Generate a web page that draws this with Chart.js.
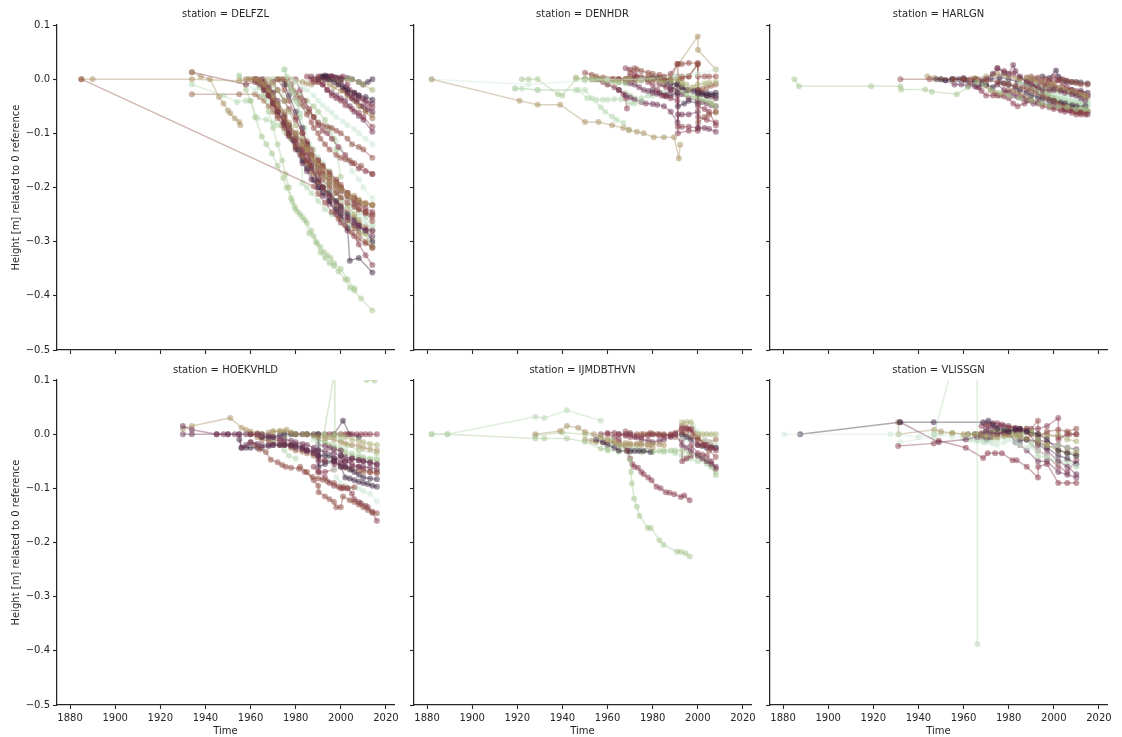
<!DOCTYPE html>
<html>
<head>
<meta charset="utf-8">
<script src="https://cdn.jsdelivr.net/npm/chart.js@4/dist/chart.umd.min.js"></script>
<style>
  body { margin: 0; background: #fff; width: 1122px; height: 737px; overflow: hidden; }
  canvas { position: absolute; }
</style>
</head>
<body>
<canvas id="f0"></canvas><canvas id="f1"></canvas><canvas id="f2"></canvas>
<canvas id="f3"></canvas><canvas id="f4"></canvas><canvas id="f5"></canvas>
<script>
/* ---------- Datos (año, altura) por estación ---------- */
const stations = ['DELFZL', 'DENHDR', 'HARLGN', 'HOEKVHLD', 'IJMDBTHVN', 'VLISSGN'];
const xTicks = [1880, 1900, 1920, 1940, 1960, 1980, 2000, 2020];
const yTicks = [-0.5, -0.4, -0.3, -0.2, -0.1, 0.0, 0.1];

// each series: year, value, year, value, ...
const delfzl = [
  [1885,0, 1988,-0.198, 1990,-0.212, 1993,-0.228, 1996,-0.245, 1999,-0.258, 2002,-0.27, 2005,-0.283, 2008,-0.295, 2011,-0.303, 2014,-0.31],
  [1885,0, 1890,0, 1934,0, 1955,-0.003, 1959,0, 1962,0, 1964,-0.005, 1966,-0.01, 1968,-0.02, 1970,-0.03, 1972,-0.045, 1975,-0.06, 1977,-0.08, 1980,-0.1, 1983,-0.12, 1985,-0.13, 1988,-0.15, 1990,-0.165, 1993,-0.18, 1995,-0.19, 1998,-0.2, 2000,-0.205, 2003,-0.215, 2005,-0.22, 2008,-0.226, 2010,-0.23, 2014,-0.232],
  [1934,0.013, 1938,0.005, 1942,0, 1946,-0.033, 1948,-0.045, 1950,-0.058, 1951,-0.063, 1953,-0.072, 1955,-0.079, 1955.5,-0.085],
  [1934,0.013, 1958,-0.01, 1962,-0.005, 1964,-0.01, 1966,-0.02, 1968,-0.03, 1970,-0.045, 1972,-0.06, 1975,-0.08, 1977,-0.095, 1980,-0.115, 1983,-0.13, 1985,-0.14, 1987,-0.152, 1990,-0.165, 1992,-0.175, 1995,-0.19, 1998,-0.2, 2000,-0.207, 2003,-0.217, 2006,-0.225, 2008,-0.23, 2011,-0.238, 2014,-0.245],
  [1962,0, 1964,-0.005, 1966,-0.015, 1968,-0.03, 1970,-0.05, 1972,-0.068, 1975,-0.09, 1977,-0.105, 1980,-0.125, 1983,-0.14, 1985,-0.15, 1987,-0.16, 1990,-0.175, 1992,-0.185, 1995,-0.2, 1998,-0.21, 2000,-0.218, 2003,-0.228, 2006,-0.236, 2008,-0.24, 2011,-0.245, 2014,-0.25],
  [1960,0, 1962,0, 1964,-0.002, 1966,-0.01, 1968,-0.025, 1970,-0.04, 1972,-0.055, 1975,-0.075, 1977,-0.09, 1980,-0.11, 1983,-0.125, 1985,-0.135, 1987,-0.145, 1990,-0.16, 1992,-0.17, 1995,-0.183, 1998,-0.195, 2000,-0.2, 2003,-0.21, 2006,-0.22, 2008,-0.225, 2011,-0.23, 2014,-0.233],
  [1963,-0.005, 1966,-0.02, 1968,-0.03, 1970,-0.044, 1972,-0.06, 1975,-0.08, 1977,-0.1, 1979,-0.113, 1981,-0.13, 1983,-0.15, 1985,-0.165, 1988,-0.186, 1990,-0.2, 1992,-0.21, 1995,-0.225, 1998,-0.24, 2000,-0.25, 2003,-0.275, 2004,-0.335, 2008,-0.33, 2014,-0.357],
  [1965,0, 1968,-0.015, 1970,-0.025, 1972,-0.04, 1975,-0.065, 1977,-0.085, 1980,-0.11, 1983,-0.135, 1985,-0.15, 1987,-0.165, 1990,-0.185, 1992,-0.2, 1995,-0.215, 1998,-0.228, 2000,-0.24, 2003,-0.255, 2006,-0.265, 2008,-0.27, 2011,-0.28, 2014,-0.29],
  [1963,0, 1966,-0.01, 1968,-0.02, 1970,-0.035, 1972,-0.05, 1975,-0.07, 1977,-0.085, 1980,-0.1, 1983,-0.115, 1985,-0.125, 1987,-0.14, 1990,-0.15, 1992,-0.16, 1995,-0.172, 1998,-0.185, 2000,-0.195, 2003,-0.21, 2006,-0.22, 2008,-0.228, 2011,-0.245, 2014,-0.262],
  [1968,0, 1970,-0.01, 1972,-0.02, 1975,-0.04, 1977,-0.06, 1980,-0.085, 1983,-0.11, 1985,-0.125, 1987,-0.14, 1990,-0.16, 1992,-0.175, 1995,-0.195, 1998,-0.21, 2000,-0.22, 2003,-0.235, 2006,-0.25, 2008,-0.26, 2011,-0.285, 2014,-0.31],
  [1958,0, 1962,0, 1964,-0.005, 1966,-0.015, 1968,-0.03, 1970,-0.045, 1972,-0.06, 1975,-0.08, 1977,-0.1, 1980,-0.12, 1983,-0.14, 1985,-0.155, 1987,-0.17, 1990,-0.19, 1992,-0.2, 1995,-0.215, 1998,-0.235, 2000,-0.245, 2003,-0.26, 2006,-0.275, 2008,-0.285, 2011,-0.3, 2014,-0.312],
  [1970,-0.005, 1972,-0.02, 1975,-0.04, 1977,-0.055, 1980,-0.075, 1983,-0.1, 1985,-0.12, 1987,-0.14, 1990,-0.17, 1992,-0.2, 1995,-0.225, 1998,-0.25, 2000,-0.265, 2003,-0.28, 2006,-0.29, 2008,-0.305, 2011,-0.325, 2014,-0.343],
  [1966,0, 1968,-0.01, 1970,-0.025, 1972,-0.045, 1975,-0.07, 1977,-0.085, 1980,-0.105, 1983,-0.12, 1985,-0.13, 1987,-0.14, 1990,-0.155, 1992,-0.165, 1995,-0.18, 1998,-0.19, 2000,-0.2, 2003,-0.21, 2006,-0.215, 2008,-0.222, 2011,-0.228, 2014,-0.232],
  [1966,-0.005, 1968,-0.02, 1970,-0.04, 1972,-0.06, 1975,-0.085, 1977,-0.105, 1980,-0.13, 1983,-0.155, 1985,-0.17, 1987,-0.185, 1990,-0.2, 1992,-0.215, 1995,-0.23, 1998,-0.245, 2000,-0.255, 2003,-0.26, 2006,-0.27, 2008,-0.275, 2011,-0.278, 2014,-0.28],
  [1972,0, 1975,-0.02, 1977,-0.04, 1980,-0.07, 1983,-0.1, 1985,-0.115, 1987,-0.13, 1990,-0.15, 1992,-0.16, 1995,-0.175, 1998,-0.19, 2000,-0.2, 2003,-0.215, 2006,-0.23, 2008,-0.24, 2011,-0.248, 2014,-0.253],
  [1975,-0.01, 1977,-0.03, 1980,-0.06, 1983,-0.09, 1985,-0.12, 1987,-0.16, 1990,-0.19, 1992,-0.2, 1995,-0.21, 1998,-0.225, 2000,-0.235, 2003,-0.25, 2006,-0.26, 2008,-0.27, 2011,-0.28, 2014,-0.3],
  [1955,0.005, 1958,-0.02, 1960,-0.04, 1962,-0.07, 1965,-0.106, 1967,-0.12, 1969.5,-0.137, 1972,-0.16, 1974.5,-0.183, 1976,-0.2, 1978,-0.22, 1979.5,-0.235, 1981,-0.245, 1983,-0.255, 1985,-0.265, 1987,-0.28, 1989,-0.3, 1991,-0.32, 1993,-0.33, 1995,-0.34, 1997,-0.345, 1999,-0.355, 2002,-0.37, 2004,-0.385, 2006,-0.39, 2009,-0.405, 2014,-0.427],
  [1962,0, 1964,-0.015, 1966,-0.03, 1968,-0.06, 1970,-0.09, 1972,-0.12, 1974,-0.15, 1975.5,-0.175, 1977,-0.2, 1978.5,-0.226, 1980,-0.24, 1982,-0.25, 1984,-0.26, 1986,-0.285, 1988,-0.29, 1989.5,-0.303, 1991,-0.31, 1992.5,-0.319, 1994,-0.325, 1995.5,-0.33, 1997,-0.34, 2000,-0.35, 2003,-0.37, 2006,-0.386],
  [1975,0.018, 1977,-0.01, 1979,-0.026, 1981,-0.045, 1982,-0.063, 1982.6,-0.131, 1983,-0.192, 1985,-0.2, 1987,-0.21, 1990,-0.225, 1993,-0.24, 1996,-0.25, 2000,-0.26, 2004,-0.27, 2008,-0.28, 2014,-0.295],
  [1975,0.018, 1976,0.005, 1978,-0.02, 1980,-0.04, 1982,-0.07, 1984,-0.09, 1986,-0.12, 1988,-0.13, 1990,-0.145, 1992,-0.155, 1995,-0.17, 1998,-0.19, 2000,-0.205, 2003,-0.22, 2006,-0.235, 2008,-0.245, 2011,-0.255, 2014,-0.27],
  [1955,0.008, 1958,-0.01, 1962,-0.02, 1965,-0.03, 1968,-0.04, 1972,-0.055, 1975,-0.07, 1978,-0.09, 1980,-0.1, 1983,-0.12, 1986,-0.14, 1988,-0.15, 1990,-0.16, 1993,-0.18, 1995,-0.2, 1998,-0.21, 2000,-0.22, 2003,-0.235, 2005,-0.245, 2008,-0.255, 2011,-0.265, 2014,-0.277],
  [1934,-0.01, 1948,-0.03, 1954,-0.042, 1958,-0.04, 1960,-0.04, 1963,-0.072, 1967,-0.075, 1970,-0.08, 1972,-0.085, 1975,-0.095, 1978,-0.11, 1982,-0.13, 1985,-0.15, 1988,-0.165, 1990,-0.18, 1993,-0.195, 1995,-0.21, 1998,-0.225, 2000,-0.24, 2003,-0.25, 2006,-0.27, 2010,-0.285, 2014,-0.305],
  [1934,-0.028, 1955,-0.028, 1962,-0.028, 1964,-0.033, 1966,-0.04, 1968,-0.05, 1970,-0.06, 1972,-0.072, 1974,-0.085, 1976,-0.1, 1978,-0.11, 1980,-0.125, 1982,-0.14, 1984,-0.15, 1986,-0.16, 1988,-0.175, 1990,-0.19, 1992,-0.2, 1994,-0.21, 1996,-0.218, 1998,-0.225, 2000,-0.232, 2003,-0.245, 2006,-0.255, 2008,-0.265, 2011,-0.272, 2014,-0.28],
  [1985,0.005, 1987,0, 1988,-0.005, 1990,-0.005, 1992,-0.01, 1994,-0.02, 1996,-0.03, 1998,-0.035, 2000,-0.04, 2002,-0.048, 2005,-0.055, 2008,-0.062, 2010,-0.07, 2014,-0.088],
  [1987,0.005, 1990,0, 1992,-0.01, 1994,-0.02, 1996,-0.025, 1998,-0.03, 2000,-0.035, 2002,-0.04, 2004,-0.05, 2006,-0.06, 2008,-0.068, 2010,-0.075, 2014,-0.097],
  [1976,0, 1978,-0.01, 1980,-0.025, 1982,-0.035, 1984,-0.05, 1986,-0.06, 1988,-0.07, 1990,-0.08, 1992,-0.085, 1994,-0.088, 1996,-0.09, 1998,-0.095, 2000,-0.1, 2003,-0.11, 2005,-0.12, 2008,-0.125, 2010,-0.13, 2014,-0.145],
  [1974,0, 1976,-0.01, 1978,-0.02, 1980,-0.035, 1982,-0.045, 1985,-0.065, 1987,-0.08, 1988,-0.09, 1990,-0.1, 1991,-0.11, 1993,-0.12, 1995,-0.13, 1998,-0.14, 2000,-0.145, 2002,-0.148, 2004,-0.15, 2006,-0.155, 2009,-0.16, 2014,-0.175],
  [1992,0.005, 1993,0.007, 1995,0, 1997,-0.005, 1999,-0.01, 2001,-0.015, 2003,-0.02, 2006,-0.025, 2008,-0.03, 2011,-0.033, 2014,-0.038],
  [1993,0, 1994,0.005, 1996,0.005, 1998,0.002, 2000,0, 2002,-0.015, 2003,-0.025, 2005,-0.035, 2007,-0.04, 2010,-0.05, 2012,-0.055, 2014,-0.06],
  [1995,0, 1998,0, 2000,-0.002, 2003,0, 2005,0, 2008,-0.005, 2010,-0.01, 2014,-0.02],
  [1988,0, 1990,0.002, 1992,0.003, 1995,0.002, 1997,0, 1999,-0.01, 2001,-0.02, 2003,-0.028, 2005,-0.035, 2007,-0.042, 2009,-0.05, 2011,-0.06, 2014,-0.072],
  [1978,0, 1980,-0.005, 1983,-0.015, 1985,-0.02, 1988,-0.03, 1990,-0.04, 1992,-0.048, 1994,-0.055, 1996,-0.062, 1998,-0.07, 2001,-0.078, 2003,-0.085, 2006,-0.092, 2008,-0.1, 2011,-0.11, 2014,-0.12],
  [1990,0, 1992,0.003, 1994,0.005, 1995,0, 1998,0.003, 2000,0, 2003,0.002, 2005,0, 2008,-0.005, 2010,-0.01, 2012,-0.005, 2014,0],
  [1972,0, 1975,0, 1978,0, 1980,-0.003, 1983,-0.005, 1985,-0.008, 1987,-0.01, 1990,-0.005, 1992,0, 1995,-0.01, 1997,-0.015, 2000,-0.022, 2003,-0.03, 2006,-0.04, 2008,-0.05, 2011,-0.058, 2014,-0.065],
  [1990,0.005, 1992,0.003, 1993,0.003, 1995,0.005, 1996,0.005, 1998,0, 2000,0.003, 2001,0.005, 2003,-0.01, 2004,-0.02, 2006,-0.025, 2008,-0.03, 2010,-0.038, 2012,-0.045, 2014,-0.052],
  [1980,0, 1982,-0.02, 1984,-0.04, 1986,-0.055, 1988,-0.07, 1990,-0.085, 1992,-0.095, 1994,-0.1, 1996,-0.11, 1999,-0.125, 2002,-0.14, 2005,-0.155, 2008,-0.165, 2011,-0.17, 2014,-0.175],
  [1970,0, 1973,0, 1976,-0.01, 1979,-0.02, 1982,-0.03, 1985,-0.04, 1988,-0.05, 1990,-0.06, 1993,-0.075, 1995,-0.09, 1997,-0.11, 1998,-0.13, 2000,-0.18],
  [1965,0, 1968,-0.01, 1970,-0.02, 1974,-0.03, 1978,-0.04, 1982,-0.05, 1985,-0.06, 1988,-0.07, 1990,-0.08, 1993,-0.09, 1995,-0.1, 1998,-0.115, 2000,-0.13, 2003,-0.15, 2005,-0.17, 2008,-0.185, 2010,-0.2, 2014,-0.22],
  [1991,0.005, 1993,0.005, 1994,0, 1996,0.005, 1997,0.003, 1999,0, 2000,-0.005, 2002,-0.02, 2004,-0.03, 2006,-0.03, 2008,-0.035, 2011,-0.04, 2014,-0.045]
];
const delfzlHue = [6,4,4,7,6,5,9,8,6,3,5,7,4,8,6,9,2,2,1,1,0,1,5,7,8,6,6,9,8,3,5,0,9,4,7,7,2,0,8];

const denhdr = [
  [1882,0, 1921,-0.04, 1929,-0.047, 1939,-0.047, 1950,-0.079, 1956,-0.079, 1962,-0.085, 1967,-0.09, 1969.5,-0.094, 1973,-0.097, 1976,-0.1, 1980.5,-0.107, 1985,-0.107, 1989.5,-0.107, 1991.6,-0.146, 1992.2,-0.121],
  [1882,0, 1925,-0.01, 1950,-0.003, 1960,0, 1975,0, 1990,0.005, 2000,0.01, 2008,0.018],
  [1922,0, 1925,0, 1929,0, 1938,-0.028, 1940,-0.03, 1946,0, 1950,0, 1953,0, 1956,0, 1959,-0.003, 1962,-0.005, 1965,-0.006, 1968,-0.008],
  [1919,-0.017, 1922,-0.017, 1929,-0.02, 1946,-0.02, 1950,-0.02, 1953,-0.035, 1957,-0.052, 1959,-0.06, 1962,-0.069, 1964,-0.075, 1967,-0.081, 1969.5,-0.094],
  [1919,-0.017, 1929,-0.02, 1947,-0.02, 1951,-0.035, 1955,-0.038, 1958,-0.038, 1960,-0.038, 1963,-0.037, 1966,-0.037, 1970,-0.045, 1972,-0.045, 1975,-0.04],
  [1946,0.003, 1950,0, 1953,0, 1955,0, 1958,0, 1960,0, 1963,-0.003, 1965,-0.005, 1968,0, 1970,0, 1973,-0.002, 1975,-0.003, 1978,0, 1980,0, 1983,-0.003, 1985,-0.005, 1988,-0.003, 1991,0, 1993,-0.01, 1996,-0.02, 2000,-0.01, 2003,-0.008, 2005,-0.006, 2008,-0.005],
  [1950,0.012, 1953,0.008, 1955,0.005, 1958,0.003, 1962,0, 1965,0, 1968,0, 1970,0.012, 1972,0.02, 1973,0.018, 1975,0.015, 1978,0.012, 1980,0.01, 1983,0.008, 1985,0.005, 1988,0.01, 1991,0.028, 1993,0.028, 1996,0.03, 2000,0.03, 2000.2,-0.08, 2003,-0.07, 2005,-0.065, 2008,-0.06],
  [1950,0, 1953,0, 1956,0, 1960,0, 1963,0, 1965,0, 1968,0, 1970,0, 1972,0, 1975,0, 1978,0, 1980,0, 1983,0, 1985,0, 1988,0, 1991,0.028, 1991.2,0, 1993,0.002, 1996,0.005, 2000,0.028, 2000.1,0.005, 2003,0.005, 2005,0.005, 2008,0.005],
  [1965,-0.02, 1968,-0.03, 1970,-0.034, 1972,-0.038, 1975,-0.042, 1977,-0.045, 1980,-0.046, 1982,-0.047, 1985,-0.05, 1988,-0.06, 1991,-0.08, 1991.2,-0.065, 1993,-0.065, 1996,-0.065, 2000,-0.06, 2000.2,-0.09, 2003,-0.09, 2005,-0.092, 2008,-0.097],
  [1968,0.02, 1970,0.018, 1972,0.01, 1973,0.005, 1975,0, 1978,-0.005, 1980,-0.01, 1982,-0.02, 1984,-0.03, 1986,-0.032, 1988,-0.035, 1991,-0.04, 1991.2,-0.088, 1993,-0.088, 1996,-0.088, 2000,-0.09, 2000.1,-0.05, 2003,-0.055, 2005,-0.06, 2008,-0.085],
  [1972,0, 1975,0, 1978,0, 1980,0.002, 1982,0.002, 1984,0, 1986,-0.005, 1988,-0.008, 1991,-0.01, 1993,-0.015, 1995,-0.02, 1998,-0.022, 2000,-0.025, 2002,-0.028, 2004,-0.03, 2006,-0.028, 2008,-0.025],
  [1968,-0.005, 1970,-0.008, 1972,-0.01, 1974,-0.015, 1976,-0.02, 1978,-0.022, 1980,-0.025, 1982,-0.027, 1985,-0.03, 1988,-0.02, 1991,-0.01, 1993,-0.015, 1996,-0.02, 2000,-0.02, 2002,-0.025, 2004,-0.03, 2006,-0.032, 2008,-0.035],
  [1955,0, 1958,-0.005, 1960,-0.01, 1963,-0.015, 1965,-0.02, 1967,-0.028, 1968,-0.035, 1968.6,-0.054],
  [1956,0, 1959,0, 1962,0, 1965,0, 1968,0, 1970,0, 1973,0.003, 1975,0.004, 1978,0.005, 1980,0.003, 1983,0.002, 1985,0, 1988,0.002, 1991,0.005, 1993,0.005, 1996,0.005, 2000,0.027, 2000.2,-0.02, 2002,-0.018, 2004,-0.015, 2006,-0.012, 2008,-0.01],
  [1991.5,0.028, 2000,0.079, 2000.1,0.054, 2008,0.018],
  [1988,0, 1990,-0.01, 1993,-0.02, 1995,-0.03, 1998,-0.033, 2000,-0.035, 2002,-0.038, 2004,-0.04, 2006,-0.045, 2008,-0.05],
  [1985,0, 1988,0, 1991,0, 1993,-0.005, 1995,-0.01, 1998,-0.015, 2000,-0.02, 2002,-0.025, 2004,-0.03, 2006,-0.045, 2008,-0.062],
  [1985,-0.01, 1988,-0.015, 1991,-0.02, 1993,-0.028, 1996,-0.035, 2000,-0.04, 2002,-0.042, 2004,-0.045, 2006,-0.048, 2008,-0.05],
  [1980,-0.02, 1983,-0.025, 1986,-0.03, 1988,-0.03, 1991,-0.025, 1991.2,-0.05, 1994,-0.045, 1996,-0.04, 2000,-0.045, 2000.2,-0.028, 2004,-0.025, 2008,-0.03],
  [1970,0.005, 1972,0.003, 1975,0.002, 1978,0, 1980,0, 1983,-0.01, 1986,-0.015, 1988,-0.02, 1991,-0.03, 1991.2,-0.1, 1996,-0.095, 2000,-0.095, 2000.2,-0.07, 2004,-0.075, 2008,-0.08],
  [1960,-0.01, 1965,-0.02, 1968,-0.025, 1970,-0.03, 1972,-0.035, 1975,-0.035, 1978,-0.03, 1980,-0.03, 1985,-0.025, 1990,-0.02, 1995,-0.025, 2000,-0.03, 2005,-0.03, 2008,-0.035]
];
const denhdrHue = [4,0,2,1,1,3,6,6,8,7,9,8,7,5,4,2,3,8,9,7,1];

const harlgn = [
  [1885,0, 1887,-0.013, 1919,-0.013, 1932,-0.013, 1932.3,-0.019, 1943,-0.019, 1946,-0.023, 1957,-0.028, 1962,-0.015, 1966,-0.005, 1969,-0.01, 1972,-0.02, 1976,-0.025, 1980,-0.03, 1985,-0.035, 1990,-0.04, 1994,-0.045, 1998,-0.05, 2002,-0.05, 2006,-0.052, 2010,-0.055, 2014,-0.055],
  [1932,0, 1945,0, 1956,0, 1960,0, 1963,0, 1966,0, 1970,-0.002, 1975,-0.005, 1978,-0.008, 1980,-0.01, 1983,-0.012, 1986,-0.015, 1988,-0.018, 1990,-0.02, 1992,-0.025, 1995,-0.03, 1997,-0.035, 2000,-0.04, 2002,-0.045, 2005,-0.05, 2007,-0.055, 2010,-0.06, 2012,-0.06, 2014,-0.062],
  [1948,0, 1950,0, 1952,-0.002, 1955,0, 1958,0, 1961,-0.002, 1965,-0.005, 1968,-0.008, 1970,-0.01, 1973,-0.015, 1976,-0.005, 1978,-0.008, 1980,-0.01, 1983,-0.015, 1985,-0.02, 1988,-0.025, 1990,-0.03, 1993,-0.033, 1995,-0.035, 1998,-0.038, 2000,-0.04, 2003,-0.043, 2005,-0.045, 2008,-0.048, 2010,-0.05, 2014,-0.05],
  [1952,-0.002, 1956,-0.01, 1959,-0.01, 1962,-0.012, 1965,-0.013, 1967,-0.015, 1970,0, 1973,0.01, 1975,0.02, 1978,0.012, 1980,0.01, 1982,0.026, 1983,0.015, 1985,0.005, 1988,-0.005, 1990,-0.01, 1993,-0.015, 1995,-0.02, 1998,-0.02, 2000,-0.02, 2003,-0.022, 2005,-0.025, 2008,-0.028, 2010,-0.03, 2012,-0.035, 2014,-0.04],
  [1960,0, 1963,-0.008, 1966,-0.015, 1968,-0.022, 1970,-0.03, 1973,-0.03, 1975,-0.03, 1978,-0.032, 1980,-0.035, 1982,-0.045, 1984,-0.05, 1987,-0.045, 1990,-0.04, 1993,-0.045, 1995,-0.05, 1998,-0.052, 2000,-0.055, 2003,-0.058, 2005,-0.06, 2008,-0.062, 2010,-0.065, 2012,-0.065, 2014,-0.065],
  [1944,0.005, 1947,0.002, 1950,0, 1955,0, 1960,0, 1965,0.002, 1970,0.005, 1973,0.008, 1975,0.01, 1978,0.008, 1980,0.005, 1983,0.002, 1985,0, 1988,0, 1990,0, 1992,-0.002, 1995,-0.005, 1998,-0.008, 2000,-0.01, 2003,-0.015, 2005,-0.02, 2008,-0.022, 2010,-0.025, 2012,-0.028, 2014,-0.03],
  [1985,-0.005, 1988,-0.01, 1990,-0.02, 1992,-0.022, 1994,-0.025, 1996,-0.03, 1998,-0.032, 2000,-0.035, 2002,-0.037, 2004,-0.04, 2006,-0.042, 2008,-0.045, 2010,-0.045, 2012,-0.046, 2014,-0.048, 2015,-0.05],
  [1985,-0.01, 1988,-0.02, 1990,-0.03, 1992,-0.035, 1995,-0.04, 1997,-0.04, 1999,-0.038, 2001,-0.04, 2003,-0.037, 2005,-0.035, 2007,-0.038, 2009,-0.04, 2011,-0.04, 2013,-0.042, 2015,-0.042],
  [1975,0.02, 1978,0.015, 1982,0.01, 1985,0.002, 1988,-0.005, 1990,-0.002, 1992,0, 1994,-0.005, 1996,-0.01, 1998,-0.005, 2000,0.005, 2002,-0.002, 2004,-0.01, 2006,-0.015, 2008,-0.02, 2010,-0.022, 2012,-0.025, 2015,-0.03],
  [1975,-0.01, 1978,-0.02, 1980,-0.025, 1982,-0.03, 1984,-0.033, 1986,-0.035, 1988,-0.04, 1991,-0.045, 1993,-0.042, 1995,-0.04, 1998,-0.043, 2000,-0.045, 2002,-0.048, 2005,-0.055, 2007,-0.058, 2010,-0.06, 2012,-0.062, 2015,-0.065],
  [1988,0, 1990,0, 1993,-0.01, 1996,-0.015, 1998,-0.018, 2000,-0.02, 2002,-0.02, 2004,-0.02, 2006,-0.022, 2008,-0.025, 2010,-0.028, 2012,-0.03, 2014,-0.033, 2015,-0.035],
  [1988,0.003, 1990,0.005, 1993,0.003, 1996,0, 1998,-0.003, 2000,-0.005, 2002,-0.002, 2004,0, 2006,-0.003, 2008,-0.005, 2010,-0.007, 2012,-0.01, 2015,-0.01],
  [1995,0.005, 1998,0.002, 2001,0.016, 2002,0.005, 2003,0, 2005,-0.003, 2006,-0.005, 2008,-0.005, 2010,-0.005, 2012,-0.006, 2015,-0.008],
  [1990,-0.015, 1993,-0.02, 1995,-0.025, 1997,-0.03, 1999,-0.035, 2001,-0.04, 2003,-0.042, 2005,-0.045, 2007,-0.048, 2009,-0.05, 2011,-0.052, 2013,-0.055, 2015,-0.058],
  [1965,0, 1968,-0.005, 1970,-0.012, 1972,-0.02, 1974,-0.025, 1976,-0.03, 1978,-0.025, 1980,-0.02, 1982,-0.022, 1984,-0.025, 1986,-0.03, 1988,-0.035, 1990,-0.038, 1993,-0.04, 1995,-0.045, 1998,-0.05, 2000,-0.052, 2003,-0.055, 2005,-0.056, 2008,-0.058, 2011,-0.06, 2015,-0.06],
  [1993,-0.01, 1995,-0.015, 1997,-0.02, 2000,-0.025, 2002,-0.027, 2004,-0.03, 2006,-0.03, 2008,-0.03, 2010,-0.03, 2012,-0.031, 2015,-0.03],
  [1995,-0.02, 1997,-0.025, 1999,-0.03, 2001,-0.032, 2003,-0.035, 2005,-0.038, 2007,-0.04, 2009,-0.04, 2011,-0.042, 2013,-0.045, 2015,-0.045],
  [1990,-0.01, 1992,-0.015, 1994,-0.02, 1996,-0.025, 1998,-0.03, 2000,-0.035, 2002,-0.04, 2004,-0.045, 2006,-0.05, 2008,-0.052, 2010,-0.055, 2012,-0.058, 2015,-0.06],
  [1995,-0.005, 1997,-0.01, 1999,-0.012, 2001,-0.015, 2003,-0.018, 2005,-0.02, 2007,-0.022, 2009,-0.025, 2011,-0.025, 2013,-0.028, 2015,-0.03],
  [1955,0, 1960,0.002, 1965,0, 1968,-0.003, 1972,0, 1976,0.003, 1980,0, 1984,-0.005, 1988,-0.01, 1992,-0.012, 1996,-0.015, 2000,-0.015, 2004,-0.02, 2008,-0.02, 2012,-0.022, 2015,-0.025]
];
const harlgnHue = [2,6,9,8,7,4,1,0,7,8,3,6,9,2,5,0,1,6,7,9];

const hoekvhld = [
  [1930,0.015, 1934,0.008, 1945,0, 1948,0, 1950,0, 1953,0, 1955,0, 1958,0, 1960,0, 1963,0, 1965,0, 1968,-0.003, 1970,-0.005, 1973,-0.008, 1975,-0.01, 1978,-0.012, 1980,-0.015, 1983,-0.018, 1985,-0.02, 1988,-0.025, 1990,-0.03, 1993,-0.032, 1997,-0.035, 2000,-0.04, 2002,-0.042, 2005,-0.045, 2008,-0.048, 2010,-0.05, 2013,-0.052, 2016,-0.055],
  [1930,0, 1934,0, 1945,0, 1950,0, 1955,0, 1956,-0.025, 1958,-0.02, 1960,-0.015, 1963,-0.018, 1965,-0.02, 1968,-0.02, 1970,-0.02, 1973,-0.02, 1975,-0.02, 1978,-0.022, 1980,-0.025, 1983,-0.028, 1985,-0.03, 1988,-0.035, 1990,-0.04, 1990.2,-0.05, 1993,-0.05, 1997,-0.05, 1997.2,-0.055, 2000,-0.055, 2002,-0.06, 2005,-0.06, 2008,-0.06, 2010,-0.06, 2013,-0.062, 2016,-0.065],
  [1930,0.01, 1934,0.015, 1951,0.03, 1956,0.012, 1958,0.008, 1960,0.005, 1963,0.002, 1965,0, 1968,0.003, 1970,0.005, 1973,0.006, 1976,0.008, 1978,0.003, 1980,0, 1983,0, 1985,0, 1988,-0.003, 1990,-0.005, 1993,-0.008, 1997,-0.01, 2000,-0.015, 2002,-0.017, 2005,-0.02, 2008,-0.022, 2010,-0.025, 2013,-0.028, 2016,-0.03],
  [1960,-0.015, 1962,-0.02, 1964,-0.028, 1966.8,-0.033, 1969,-0.047, 1972,-0.052, 1974,-0.057, 1975.6,-0.06, 1978,-0.062, 1981.5,-0.064, 1984,-0.07, 1987.5,-0.079, 1990,-0.082, 1992,-0.084, 1994,-0.087, 1997,-0.09, 1999,-0.097, 2001,-0.098, 2003,-0.1, 2006,-0.098],
  [1982,-0.06, 1985,-0.07, 1988,-0.085, 1990,-0.095, 1990.2,-0.107, 1993,-0.115, 1995,-0.12, 1997,-0.125, 1998,-0.135, 2000,-0.135, 2001,-0.115, 2004,-0.122, 2006,-0.125, 2008,-0.13, 2010,-0.135, 2012,-0.14, 2014,-0.143, 2016,-0.146],
  [1988,-0.06, 1990,-0.07, 1993,-0.08, 1995,-0.09, 1997,-0.095, 2000,-0.1, 2001,-0.1, 2003,-0.1, 2005,-0.11, 2006,-0.12, 2008,-0.125, 2009,-0.128, 2011,-0.132, 2012,-0.135, 2014,-0.145, 2016,-0.16],
  [1955,-0.01, 1956,-0.025, 1958,-0.025, 1960,-0.025, 1963,-0.025, 1965,-0.025, 1968,-0.022, 1970,-0.02, 1973,-0.02, 1975,-0.02, 1978,-0.02, 1980,-0.02, 1983,-0.025, 1985,-0.03, 1988,-0.03, 1990,-0.03, 1990.2,-0.06, 1993,-0.055, 1997,-0.05, 2000,-0.04, 2002,-0.06, 2004,-0.065, 2006,-0.07, 2008,-0.075, 2010,-0.08, 2013,-0.082, 2016,-0.083],
  [1965,-0.005, 1968,-0.005, 1970,-0.005, 1973,-0.002, 1975,0, 1978,0, 1980,0, 1983,0, 1985,0, 1988,0, 1990,0, 1990.2,-0.04, 1993,-0.04, 1995,-0.04, 1997,-0.045, 2000,-0.06, 2002,-0.08, 2004,-0.082, 2006,-0.085, 2008,-0.088, 2010,-0.09, 2012,-0.092, 2014,-0.095, 2016,-0.097],
  [1975,-0.005, 1980,0, 1985,0, 1992.5,0, 1997.2,0.115, 1997.4,0, 2000,-0.01, 2003,-0.02, 2008,-0.03, 2016,-0.035],
  [2008,0.13, 2011.5,0.1, 2015,0.099],
  [1965,0, 1968,-0.005, 1970,-0.01, 1973,-0.02, 1975,-0.03, 1977,-0.04, 1980,-0.045],
  [1988,-0.01, 1990,-0.02, 1993,-0.035, 1995,-0.05, 1997,-0.065, 1998,-0.08, 2000,-0.09, 2002,-0.095, 2005,-0.1, 2008,-0.1, 2010,-0.105, 2013,-0.11, 2016,-0.124],
  [1960,0, 1963,-0.005, 1965,-0.01, 1968,-0.012, 1970,-0.015, 1973,-0.018, 1975,-0.02, 1978,-0.025, 1980,-0.03, 1983,-0.032, 1985,-0.035, 1988,-0.04, 1990,-0.045, 1993,-0.048, 1997,-0.05, 2000,-0.06, 2002,-0.062, 2005,-0.065, 2008,-0.068, 2010,-0.07, 2013,-0.07, 2016,-0.07],
  [1970,0.005, 1973,0.005, 1975,0.005, 1978,0.002, 1980,0, 1985,0, 1990,0, 1993,-0.003, 1995,-0.005, 1997,-0.003, 2000,0, 2002,-0.005, 2005,-0.01, 2008,-0.012, 2010,-0.015, 2013,-0.018, 2016,-0.02],
  [1990,0, 1993,0, 1995,0, 1997,0, 2000,0, 2002,0, 2003,0, 2005,0, 2007,0, 2009,0, 2011,0, 2013,0, 2016,0],
  [1990,-0.02, 1993,-0.022, 1995,-0.025, 1997,-0.028, 2000,-0.03, 2002,-0.05, 2004,-0.048, 2005,-0.045, 2008,-0.048, 2010,-0.05, 2013,-0.053, 2016,-0.057],
  [1997,0, 2001,0.025, 2004,0, 2008,-0.005],
  [1990,-0.01, 1993,-0.015, 1995,-0.02, 1997,-0.025, 2000,-0.03, 2002,-0.035, 2005,-0.04, 2008,-0.043, 2010,-0.045, 2013,-0.047, 2016,-0.048],
  [1985,0, 1988,-0.005, 1990,-0.01, 1993,-0.015, 1997,-0.02, 2000,-0.025, 2002,-0.03, 2005,-0.035, 2008,-0.04, 2010,-0.042, 2013,-0.045, 2016,-0.045],
  [1960,0, 1963,0, 1965,-0.005, 1968,-0.008, 1970,-0.01, 1973,-0.012, 1975,-0.015, 1978,-0.02, 1980,-0.022, 1983,-0.025, 1985,-0.03, 1988,-0.035, 1990,-0.04, 1990.2,-0.07, 1993,-0.07, 1997,-0.065, 1997.2,-0.045, 2000,-0.05, 2002,-0.05, 2005,-0.055, 2008,-0.06, 2010,-0.065, 2013,-0.07, 2016,-0.072]
];
const hoekvhldHue = [8,8,4,6,6,7,9,9,2,2,1,0,5,3,7,8,9,2,1,7];

const ijmdbthvn = [
  [1882,0, 1889,0, 1928,0.032, 1932,0.03, 1942,0.044, 1957,0.025],
  [1882,0, 1889,0, 1928,-0.008, 1932,-0.008, 1942,-0.008, 1950,-0.014, 1957,-0.027, 1960,-0.027],
  [1928,0, 1939,0.006, 1942,0.015, 1947,0.012, 1950,0.004, 1954,0, 1957,-0.005, 1960,-0.01, 1963,-0.015, 1965,-0.02, 1968,-0.02, 1970,-0.02, 1973,-0.02, 1975,-0.02, 1978,-0.022, 1980,-0.025],
  [1928,-0.003, 1940,0.003, 1950,0, 1957,-0.005, 1962,-0.01, 1966,-0.02, 1970,-0.047, 1970.4,-0.07, 1970.8,-0.091, 1971.8,-0.119, 1973,-0.134, 1974.2,-0.151, 1977.8,-0.173, 1979.2,-0.173, 1983,-0.196, 1984.8,-0.204, 1990.8,-0.217, 1992.5,-0.217, 1994.5,-0.22, 1996.4,-0.226],
  [1960,0, 1963,-0.005, 1965,-0.01, 1968.6,-0.03, 1970,-0.045, 1971,-0.055, 1971.8,-0.06, 1973.5,-0.062, 1975,-0.07, 1976,-0.074, 1978,-0.08, 1979.5,-0.085, 1981.7,-0.097, 1983.5,-0.1, 1985.8,-0.107, 1987.5,-0.108, 1989.6,-0.111, 1992.5,-0.116, 1994,-0.113, 1996.4,-0.122],
  [1955,-0.01, 1958,-0.015, 1960,-0.02, 1963,-0.025, 1965,-0.03, 1968.6,-0.031, 1970,-0.031, 1972,-0.031, 1974,-0.031, 1976,-0.031, 1979,-0.033],
  [1957,0, 1960,0.002, 1963,0.002, 1965,0, 1968,-0.003, 1970,-0.005, 1973,-0.005, 1975,-0.005, 1978,-0.002, 1980,0, 1983,-0.002, 1985,-0.003, 1988,-0.002, 1990,0, 1993,0.01, 1995,0.01, 1997,0.01, 2000,-0.02, 2002,-0.02, 2004,-0.02, 2006,-0.025, 2008,-0.03],
  [1950,-0.01, 1953,-0.012, 1955,-0.015, 1958,-0.015, 1960,-0.015, 1963,-0.015, 1965,-0.015, 1968,-0.016, 1970,-0.017, 1973,-0.017, 1975,-0.017, 1978,-0.018, 1980,-0.018, 1983,-0.019, 1985,-0.02],
  [1965,0, 1968,0, 1970,0, 1972,-0.005, 1975,-0.01, 1978,-0.012, 1980,-0.015, 1983,-0.012, 1985,-0.01, 1988,-0.005, 1990,0, 1993,-0.02, 1995,-0.025, 1997,-0.03, 2000,-0.04, 2002,-0.045, 2004,-0.05, 2006,-0.055, 2008,-0.06],
  [1960,-0.03, 1965,-0.032, 1970,-0.033, 1975,-0.033, 1980,-0.033, 1983,-0.031, 1985,-0.03, 1988,-0.03, 1990,-0.03, 1993,-0.03, 1996,-0.035, 2000,-0.04, 2002,-0.045, 2004,-0.05, 2006,-0.06, 2008,-0.076],
  [1993,0.022, 1995,0.022, 1997,0.022, 2000,0, 2002,0, 2004,0, 2006,0, 2008,0],
  [1993,0.005, 1996,0.008, 1998,0.002, 2000,-0.005, 2003,-0.02, 2005,-0.03, 2008,-0.042],
  [1993,0, 1995,-0.005, 1997,-0.01, 2000,-0.02, 2002,-0.022, 2004,-0.025, 2006,-0.025, 2008,-0.025],
  [1990,0, 1993,-0.005, 1995,-0.01, 1998,0.015, 2000,0.005, 2003,-0.01, 2005,-0.015, 2008,-0.02],
  [1993,-0.01, 1993.1,-0.05, 1995,-0.045, 1997,-0.04, 1997.1,-0.02, 2000,-0.035, 2002,-0.038, 2004,-0.04, 2006,-0.05, 2008,-0.064],
  [1975,0, 1978,0, 1980,0, 1983,0, 1985,0, 1988,-0.003, 1990,-0.005, 1993,0, 1995,0, 1997,-0.005, 2000,-0.01, 2003,-0.012, 2005,-0.015, 2008,-0.01],
  [1968,0.005, 1970,0.002, 1973,0, 1976,0, 1979,0.002, 1982,0, 1985,-0.002, 1988,0, 1990,0.002, 1993,0.015, 1995,0.012, 1997,0.008, 2000,-0.01, 2003,-0.015, 2006,-0.02, 2008,-0.025],
  [1962,-0.02, 1965,-0.022, 1968,-0.025, 1971,-0.025, 1974,-0.028, 1977,-0.03, 1980,-0.032, 1985,-0.033, 1990,-0.035, 1993,-0.04, 1995,-0.045, 1997,-0.045, 2000,-0.05, 2004,-0.055, 2008,-0.07]
];
const ijmdbthvnHue = [1,2,4,2,7,9,7,4,8,2,3,6,9,0,7,5,6,1];

const vlissgn = [
  [1880.5,0, 1927.6,0, 1931,0, 1940,-0.005, 1947,0],
  [1947,0, 1966,0.3, 1966.1,-0.388],
  [1887.6,0, 1931.7,0.022, 1946.8,0.022, 1968.7,0.022, 1971,0.025, 1973,0.018, 1975,0.01, 1978,0.008, 1980,0.005, 1983,0.008, 1985,0.01, 1988,0.005, 1993,0, 1997,-0.01, 2002,-0.03, 2006,-0.035, 2010,-0.04],
  [1931,0.022, 1931.2,0, 1947,0.008, 1950,0.005, 1955,0.002, 1960,0, 1965,0, 1968,-0.003, 1970,-0.005, 1973,-0.005, 1975,-0.005, 1978,-0.003, 1980,-0.002, 1983,-0.004, 1985,-0.005, 1988,-0.008, 1993,-0.015, 1997,-0.02, 2002,-0.03, 2006,-0.033, 2010,-0.035],
  [1931,-0.022, 1946.8,-0.017, 1949,-0.012, 1961,-0.025, 1968.7,-0.044, 1970.7,-0.035, 1974,-0.035, 1977,-0.035, 1981.7,-0.048, 1983.5,-0.048, 1988,-0.06, 1993,-0.08, 1993.1,-0.06, 1997,-0.055, 2002,-0.09, 2006,-0.09, 2010,-0.09],
  [1932,0.022, 1949,-0.015, 1961,-0.01, 1966,-0.005, 1968,0, 1970,0.005, 1972,0.003, 1975,0, 1978,0.003, 1980,0.005, 1983,0.01, 1985,0.008, 1988,0.005, 1993,-0.02, 1997,-0.03, 2002,-0.05, 2006,-0.06, 2010,-0.074],
  [1932,-0.015, 1947,-0.005, 1950,0, 1955,-0.005, 1960,-0.005, 1965,-0.01, 1968,-0.012, 1970,-0.015, 1973,-0.018, 1975,-0.02, 1978,-0.015, 1980,-0.01, 1983,-0.015, 1985,-0.02, 1988,-0.025, 1993,-0.03, 1997,-0.04, 2002,-0.05, 2006,-0.055, 2010,-0.06],
  [1947,0, 1955,0.002, 1962,0, 1965,0, 1968,0, 1970,0.002, 1972,0.005, 1975,0.006, 1978,0.008, 1981,0.004, 1984,0, 1987,0.003, 1990,0.005, 1993,-0.01, 1997,-0.02, 2002,-0.03, 2006,-0.035, 2010,-0.04],
  [1962,0, 1966,0, 1968,0.002, 1970,0.003, 1973,0.004, 1975,0.005, 1978,0.002, 1980,0, 1983,0.003, 1985,0.005, 1989,0.005, 1993,0.025, 1993.1,-0.005, 1997,0.005, 2002,0.008, 2006,0.005, 2010,0.01],
  [1968,0.015, 1970,0.018, 1971,0.018, 1973,0.02, 1975,0.02, 1977,0.018, 1980,0.015, 1983,0.012, 1985,0.01, 1988,0.01, 1990,0.01, 1993,0.01, 1997,0.015, 2002,0.03, 2002.1,-0.01, 2006,0, 2010,0],
  [1965,0, 1968,-0.005, 1970,-0.01, 1972,-0.005, 1975,0, 1978,0.002, 1980,0.003, 1983,-0.015, 1985,-0.012, 1988,-0.01, 1993,-0.015, 1997,-0.025, 2002,-0.04, 2006,-0.045, 2010,-0.055],
  [1970,0, 1973,0.003, 1976,0.005, 1979,0.008, 1982,0.01, 1985,0.01, 1988,0.01, 1990,0.005, 1993,0, 1997,-0.005, 2002,0, 2006,-0.01, 2010,-0.013],
  [1985,-0.02, 1988,-0.03, 1993,-0.05, 1997,-0.05, 2002,-0.07, 2006,-0.075, 2010,-0.08],
  [1985,0, 1988,-0.01, 1990,-0.02, 1993,-0.04, 1997,-0.045, 2002,-0.05, 2006,-0.05, 2010,-0.06],
  [1975,0.005, 1980,0.003, 1985,0, 1990,0, 1993,0, 1997,0, 2002,-0.005, 2007,0, 2010,0],
  [1980,0.01, 1983,0.005, 1985,0, 1988,-0.01, 1993,-0.03, 1997,-0.04, 2002,-0.06, 2006,-0.07, 2010,-0.048],
  [1960,-0.008, 1963,-0.01, 1966,-0.012, 1969,-0.015, 1972,-0.012, 1975,-0.01, 1978,-0.005, 1981,-0.003, 1984,-0.005, 1988,-0.01, 1993,-0.02, 1997,-0.025, 2002,-0.02, 2006,-0.025, 2010,-0.03],
  [1970,0.01, 1972,0.012, 1974,0.012, 1976,0.015, 1978,0.015, 1980,0.012, 1982,0.01, 1985,0.005, 1990,0.002, 1993,-0.01, 1997,-0.015, 2002,-0.02, 2006,-0.025, 2010,-0.028]
];
const vlissgnHue = [0,1,9,4,7,8,0,2,6,7,9,3,8,1,5,7,1,8];

/* ---------- Estilo ---------- */
const INK = '#262626';
const FONT = "'DejaVu Sans', sans-serif";
const palette = ['#cde8d6','#b3d6b0','#a6c690','#a9ae74','#a89060','#9a6548','#8e4a40','#86384a','#6c2f52','#3b2440'];

function rgba(hex, a) {
  const n = parseInt(hex.slice(1), 16);
  return `rgba(${n >> 16},${(n >> 8) & 255},${n & 255},${a})`;
}
function toPts(a) {
  const p = [];
  for (let i = 0; i < a.length; i += 2) p.push({ x: a[i], y: a[i + 1] });
  return p;
}
function fmtY(v) {
  const r = Math.round(v * 10) / 10;
  return (r < 0 ? '\u2212' : '') + Math.abs(r).toFixed(1);
}

// canvas geometry per column / row (plot areas: x 57/414/770, width 337; y 25-350 / 380-705)
const cols = [
  { left: 0,   width: 414, yW: 57, padR: 20 },
  { left: 400, width: 371, yW: 14, padR: 20 },
  { left: 757, width: 365, yW: 13, padR: 15 }
];
const rows = [
  { top: 0,   height: 360, xH: 10, tTop: 8, tBot: 5 },
  { top: 362, height: 375, xH: 32, tTop: 2, tBot: 4 }
];

const seriesList = [delfzl, denhdr, harlgn, hoekvhld, ijmdbthvn, vlissgn];
const hueList = [delfzlHue, denhdrHue, harlgnHue, hoekvhldHue, ijmdbthvnHue, vlissgnHue];

stations.forEach((name, i) => {
  const c = cols[i % 3], r = rows[Math.floor(i / 3)];
  const bottomRow = r === rows[1], leftCol = c === cols[0];
  const cv = document.getElementById('f' + i);
  cv.width = c.width; cv.height = r.height;
  cv.style.left = c.left + 'px'; cv.style.top = r.top + 'px';

  const datasets = seriesList[i].map((s, k) => {
    const col = palette[hueList[i][k]];
    return {
      data: toPts(s),
      borderColor: rgba(col, 0.4),
      backgroundColor: rgba(col, 0.5),
      borderWidth: 1.5,
      pointRadius: 3,
      pointBorderWidth: 0,
      pointBackgroundColor: rgba(col, 0.5),
      tension: 0
    };
  });

  new Chart(cv, {
    type: 'line',
    data: { datasets },
    options: {
      responsive: false, animation: false, devicePixelRatio: 1, events: [],
      layout: { padding: { left: 0, right: c.padR, top: 0, bottom: 0 } },
      plugins: {
        legend: { display: false },
        tooltip: { enabled: false },
        title: {
          display: true, fullSize: false, text: 'station = ' + name,
          color: INK, font: { family: FONT, size: 10, weight: 'normal', lineHeight: 1.2 },
          padding: { top: r.tTop, bottom: r.tBot }
        }
      },
      scales: {
        x: {
          type: 'linear', min: 1874.2, max: 2023.6,
          afterBuildTicks: s => { s.ticks = xTicks.map(v => ({ value: v })); },
          afterFit: s => { s.height = r.xH; },
          border: { display: true, color: INK, width: 1.25 },
          grid: { drawOnChartArea: false, drawTicks: true, tickLength: 4, color: INK, tickColor: INK, tickWidth: 1.1 },
          ticks: { display: bottomRow, color: INK, padding: 3, maxRotation: 0, callback: v => String(v), font: { family: FONT, size: 10 } },
          title: { display: bottomRow, text: 'Time', color: INK, padding: { top: 0, bottom: 0 }, font: { family: FONT, size: 10 } }
        },
        y: {
          type: 'linear', min: -0.5, max: 0.1,
          afterBuildTicks: s => { s.ticks = yTicks.map(v => ({ value: v })); },
          afterFit: s => { s.width = c.yW; },
          border: { display: true, color: INK, width: 1.25 },
          grid: { drawOnChartArea: false, drawTicks: true, tickLength: 4, color: INK, tickColor: INK, tickWidth: 1.1 },
          ticks: { display: leftCol, color: INK, padding: 3, callback: v => fmtY(v), font: { family: FONT, size: 10 } },
          title: { display: leftCol, text: 'Height [m] related to 0 reference', color: INK, padding: { top: 10, bottom: 0 }, font: { family: FONT, size: 10 } }
        }
      }
    }
  });
});
</script>
</body>
</html>
